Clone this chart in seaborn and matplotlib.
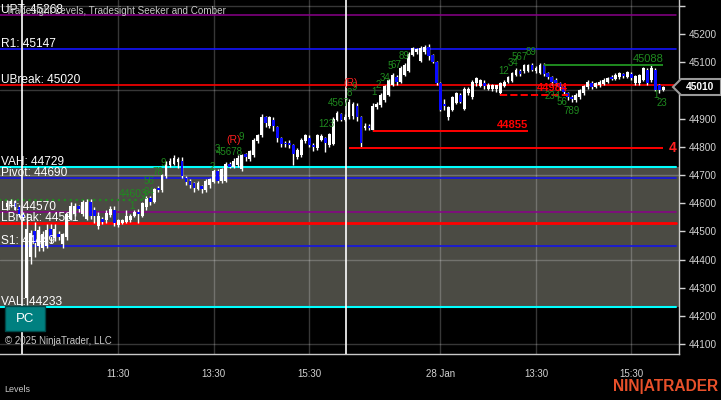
import numpy as np
import pandas as pd
import matplotlib
matplotlib.use('Agg')
import matplotlib.pyplot as plt
import seaborn as sns
from matplotlib.patches import Rectangle, Polygon

# 5-minute bars (index 0 = first bar on screen)
opens = [
    44585, 44598, 44600, 44585, 44560, 44265, 44410, 44500, 44450, 44440,
    44450, 44510, 44475, 44490, 44455, 44480, 44545, 44560, 44590, 44560,
    44545, 44605, 44575, 44520, 44545, 44540, 44558, 44575, 44522, 44530,
    44535, 44540, 44555, 44570, 44555, 44585, 44620, 44605, 44655, 44645,
    44695, 44735, 44740, 44745, 44750, 44690, 44680, 44670, 44650, 44660,
    44645, 44665, 44675, 44715, 44680, 44680, 44740, 44730, 44735, 44720,
    44775, 44755, 44770, 44820, 44840, 44905, 44875, 44895, 44870, 44830,
    44815, 44812, 44805, 44765, 44770, 44820, 44830, 44805, 44795, 44825,
    44830, 44805, 44810, 44895, 44915, 44895, 44905, 44910, 44945, 44905,
    44865, 44875, 44860, 44940, 44948, 44965, 44985, 45020, 45048, 45030,
    45055, 45068, 45125, 45135, 45105, 45135, 45155, 45125, 45100, 45025,
    44950, 44905, 44930, 44955, 44985, 44935, 44990, 44975, 45025, 45015,
    45025, 45005, 45005, 45003, 44990, 45015, 45030, 45032, 45055, 45068,
    45068, 45070, 45090, 45068, 45062, 45090, 45060, 45048, 45037, 45025,
    45010, 44990, 44975, 44966, 44975, 44990, 45010, 45025, 45012, 45018,
    45023, 45030, 45048, 45040, 45046, 45058, 45048, 45058, 45026, 45025,
    45037, 45072, 45035, 45072, 45018, 45002]
highs = [
    44612, 44615, 44612, 44595, 44570, 44565, 44505, 44535, 44520, 44500,
    44525, 44525, 44525, 44500, 44495, 44565, 44605, 44600, 44595, 44612,
    44615, 44615, 44585, 44570, 44550, 44575, 44590, 44590, 44545, 44545,
    44575, 44560, 44575, 44578, 44605, 44625, 44625, 44655, 44660, 44705,
    44750, 44760, 44770, 44765, 44765, 44695, 44685, 44675, 44680, 44665,
    44685, 44690, 44720, 44720, 44725, 44745, 44745, 44760, 44770, 44775,
    44778, 44790, 44830, 44845, 44915, 44910, 44910, 44905, 44875, 44835,
    44820, 44825, 44810, 44795, 44830, 44845, 44840, 44812, 44845, 44845,
    44835, 44850, 44905, 44925, 44920, 44915, 44970, 44960, 44955, 44910,
    44885, 44880, 44955, 44960, 44990, 45020, 45040, 45060, 45055, 45085,
    45095, 45135, 45155, 45150, 45158, 45160, 45165, 45130, 45105, 45030,
    44970, 44945, 44980, 44995, 44990, 45010, 45010, 45035, 45048, 45040,
    45035, 45025, 45022, 45020, 45030, 45035, 45052, 45065, 45078, 45075,
    45092, 45093, 45095, 45085, 45095, 45095, 45065, 45052, 45045, 45030,
    45015, 44995, 44985, 44990, 45005, 45018, 45035, 45032, 45030, 45038,
    45042, 45048, 45053, 45060, 45064, 45062, 45070, 45065, 45054, 45058,
    45082, 45078, 45088, 45078, 45022, 45015]
lows = [
    44575, 44585, 44575, 44550, 44540, 44240, 44385, 44410, 44430, 44430,
    44440, 44460, 44465, 44470, 44440, 44470, 44540, 44555, 44570, 44555,
    44540, 44545, 44530, 44510, 44525, 44530, 44550, 44520, 44515, 44525,
    44530, 44535, 44550, 44530, 44550, 44575, 44595, 44600, 44640, 44640,
    44690, 44730, 44735, 44725, 44690, 44665, 44655, 44640, 44645, 44635,
    44640, 44655, 44670, 44670, 44670, 44675, 44725, 44725, 44730, 44715,
    44750, 44750, 44765, 44815, 44835, 44870, 44865, 44855, 44818, 44800,
    44800, 44795, 44735, 44755, 44765, 44815, 44800, 44785, 44790, 44820,
    44780, 44800, 44805, 44890, 44890, 44890, 44900, 44900, 44890, 44797,
    44860, 44858, 44855, 44935, 44940, 44960, 44980, 45015, 45020, 45025,
    45050, 45065, 45120, 45130, 45100, 45130, 45108, 45095, 45020, 44925,
    44930, 44895, 44925, 44950, 44955, 44930, 44985, 44970, 45015, 45010,
    45005, 45000, 44998, 44995, 44985, 45010, 45025, 45028, 45050, 45050,
    45062, 45065, 45068, 45062, 45058, 45052, 45040, 45020, 45015, 45000,
    44985, 44965, 44960, 44958, 44970, 44985, 45005, 45005, 45008, 45012,
    45018, 45025, 45035, 45035, 45040, 45045, 45042, 45038, 45020, 45020,
    45032, 45020, 45030, 44998, 44990, 44998]
closes = [
    44600, 44608, 44585, 44560, 44550, 44510, 44495, 44460, 44505, 44490,
    44505, 44480, 44510, 44480, 44490, 44560, 44590, 44590, 44580, 44605,
    44605, 44555, 44555, 44555, 44535, 44565, 44580, 44530, 44540, 44540,
    44555, 44555, 44570, 44560, 44600, 44620, 44605, 44650, 44645, 44700,
    44745, 44750, 44760, 44755, 44695, 44675, 44665, 44655, 44670, 44650,
    44680, 44685, 44715, 44680, 44720, 44740, 44730, 44750, 44760, 44770,
    44765, 44785, 44825, 44840, 44905, 44885, 44905, 44875, 44830, 44810,
    44810, 44805, 44775, 44790, 44825, 44840, 44805, 44798, 44840, 44838,
    44815, 44845, 44900, 44920, 44895, 44905, 44960, 44950, 44905, 44815,
    44875, 44865, 44945, 44950, 44983, 45015, 45035, 45055, 45030, 45080,
    45090, 45130, 45150, 45145, 45150, 45155, 45120, 45100, 45025, 44930,
    44945, 44940, 44975, 44990, 44960, 45005, 45005, 45030, 45045, 45035,
    45017, 45018, 45018, 45018, 45025, 45028, 45048, 45060, 45072, 45058,
    45088, 45090, 45073, 45080, 45088, 45058, 45048, 45030, 45025, 45010,
    44995, 44975, 44970, 44983, 45000, 45015, 45030, 45012, 45025, 45030,
    45037, 45043, 45040, 45054, 45060, 45052, 45065, 45044, 45050, 45055,
    45078, 45025, 45078, 45001, 45001, 45010]

# time axis
tick_bars = [28, 52, 76, 109, 133, 157]
tick_labels = ['11:30', '13:30', '15:30', '28 Jan', '13:30', '15:30']
session_breaks = [3.85, 85.2]

# Tradesight levels
level_names = ['UPT', 'R1', 'UBreak', 'VAH', 'Pivot', 'LH', 'LBreak', 'S1', 'VAL']
level_values = [45268, 45147, 45020, 44729, 44690, 44570, 44531, 44449, 44233]
level_colors = ['#8a008a', '#1414ff', '#ff0000', '#00ffff', '#1414e6',
                '#8a008a', '#ff0000', '#1414e6', '#00ffff']
level_widths = [1.1, 1.2, 1.2, 1.5, 1.2, 1.1, 2, 1.2, 1.5]

# Comber / Seeker segments (price, first bar, last bar)
seg_prices = [44797, 44855, 44984, 45088]
seg_start = [86, 92, 124, 135]
seg_end = [165, 131, 141, 165]
seg_labels = ['', '44855', '44984', '45088']
seg_colors = ['#ff0000', '#ff0000', '#ff0000', '#1f8a1f']
seg_styles = ['-', '-', '--', '-']

# Seeker counts (bar, price, text)
count_bars = [31.5, 34.5, 35.8, 35.7, 38.0, 39.2, 51.5, 52.9, 56.0, 58.8,
              80.2, 83.5, 86.0, 87.3, 92.3, 93.3, 95.0, 96.3, 97.8, 99.8,
              125.0, 127.2, 129.0, 131.8, 137.3, 139.5, 142.0, 163.2, 164.7]
count_prices = [44590, 44625, 44640, 44679, 44711, 44742, 44730, 44791, 44781, 44835,
                44880, 44955, 44992, 45010, 44994, 45019, 45043, 45086, 45090, 45122,
                45068, 45097, 45118, 45136, 44980, 44960, 44925, 44983, 44955]
count_texts = ['1', '2', '34', '56', '78', '9', '2', '3', '45678', '9',
               '123', '4567', '8', '9', '1', '2', '34', '5', '67', '89',
               '12', '34', '567', '89', '234', '56', '789', '1', '23']
r_bars = [57.0, 86.5]
r_prices = [44824, 45026]

W, H = 721, 400


def fxy(px, py):
    return px / W, 1 - py / H


df = pd.DataFrame({'open': opens, 'high': highs, 'low': lows, 'close': closes})
df['bar'] = np.arange(len(df))
df['up'] = df['close'] >= df['open']

sns.set_theme(style='dark')
plt.rcParams['font.family'] = ['Liberation Sans', 'DejaVu Sans']

fig = plt.figure(figsize=(W / 100, H / 100), dpi=100, facecolor='black')
ax = fig.add_axes([0, 1 - 354 / H, 679 / W, 354 / H])
ax.set_facecolor('black')
ax.set_xlim(-1.76, 168.97)
ax.set_ylim(44065.6, 45320)

# value area
ax.axhspan(level_values[8], level_values[3], color='#4b4b44', zorder=0, lw=0)

# grid
for g in [45300, 45000, 44700, 44400, 44100]:
    ax.axhline(g, color='white', alpha=0.22, lw=1, zorder=1)
for b in tick_bars:
    ax.axvline(b, color='white', alpha=0.22, lw=1, zorder=1)
for b in session_breaks:
    ax.axvline(b, color='white', lw=1.2, zorder=5)

# level lines + labels
for name, v, c, w in zip(level_names, level_values, level_colors, level_widths):
    ax.axhline(v, xmax=676 / 679, color=c, lw=w, zorder=2)
    ax.annotate(f'{name}: {v}', xy=(0, v), xycoords=('axes fraction', 'data'),
                xytext=(1, 2), textcoords='offset pixels', color='white',
                fontsize=8.6, va='baseline', ha='left', zorder=8)

# green dotted level on left
ax.hlines(44611, -2, 35, colors='#1f8a1f', linestyles=':', lw=1.6, zorder=2)
ax.text(35.3, 44614, '44603', color='#1f8a1f', fontsize=7.5, ha='right',
        va='bottom', zorder=7)

# candles
ax.vlines(df['bar'], df['low'], df['high'], color='white', lw=1, zorder=3)
body_lo = np.minimum(df['open'], df['close'])
body_h = np.maximum((df['close'] - df['open']).abs(), 3)
ax.bar(df['bar'], body_h, bottom=body_lo, width=0.7,
       color=np.where(df['up'], 'white', '#0a0aff'), lw=0, zorder=4)

# segments
for p, s, e, lab, c, ls in zip(seg_prices, seg_start, seg_end, seg_labels, seg_colors, seg_styles):
    ax.hlines(p, s, e, colors=c, linestyles=ls, lw=1.4, zorder=5)
    if lab:
        ax.text(e, p + 6, lab, color=c, fontsize=8, ha='right', va='bottom',
                zorder=7, fontweight='bold' if c == '#ff0000' else 'normal')

# seeker counts
for b, p, t in zip(count_bars, count_prices, count_texts):
    ax.text(b, p, t, color='#1f8a1f', fontsize=7, ha='center', va='center', zorder=6)
for b, p in zip(r_bars, r_prices):
    ax.text(b, p, '(R)', color='#ff2020', fontsize=7.5, ha='center', va='center', zorder=6)

ax.text(168.4, 44797, '4', color='#ff2020', fontsize=10, fontweight='bold',
        ha='right', va='center', zorder=7)

# axes styling
for side in ['left', 'top']:
    ax.spines[side].set_visible(False)
for side in ['right', 'bottom']:
    ax.spines[side].set_color('#c8c8c8')
    ax.spines[side].set_linewidth(1)
ax.yaxis.tick_right()
ax.set_yticks(np.arange(44100, 45301, 100))
ax.set_yticklabels([str(v) if v <= 45200 else '' for v in range(44100, 45301, 100)])
ax.set_xticks(tick_bars)
ax.set_xticklabels(tick_labels)
ax.tick_params(axis='y', colors='#d2d2d2', labelsize=7.2, length=4, width=1,
               direction='out', pad=3, left=False, right=True)
ax.tick_params(axis='x', colors='#d2d2d2', labelsize=7, length=4, width=1,
               direction='out', pad=7)
ax.grid(False)

# chart furniture
fig.text(*fxy(6, 11), 'Tradesight Levels, Tradesight Seeker and Comber',
         color='#c8c8c8', fontsize=7.1, va='center', ha='left')
fig.text(*fxy(5, 341), '\u00a9 2025 NinjaTrader, LLC', color='#c8c8c8',
         fontsize=7, va='center', ha='left')
fig.text(*fxy(4, 390), 'Levels', color='#c8c8c8', fontsize=6.5, va='center', ha='left')
fig.text(*fxy(718, 387), 'NIN|ATRADER', color='#e8502a', fontsize=11.2,
         fontweight='bold', va='center', ha='right')

x0, y0 = fxy(5, 331)
x1, y1 = fxy(45, 306)
fig.patches.append(Rectangle((x0, y0), x1 - x0, y1 - y0, transform=fig.transFigure,
                             facecolor='#008080', edgecolor='#004848', lw=1, zorder=10))
fig.text(*fxy(25, 319), 'PC', color='white', fontsize=9.5, ha='center', va='center', zorder=11)

marker = [fxy(673, 87), fxy(681, 79), fxy(721, 79), fxy(721, 95), fxy(681, 95)]
fig.patches.append(Polygon(marker, closed=True, transform=fig.transFigure,
                           facecolor='black', edgecolor='#9a9a9a', lw=1.5, zorder=10))
fig.text(*fxy(700, 87), '45010', color='white', fontsize=7.4, fontweight='bold',
         ha='center', va='center', zorder=11)

fig.savefig('out.png', dpi=100, facecolor='black')
